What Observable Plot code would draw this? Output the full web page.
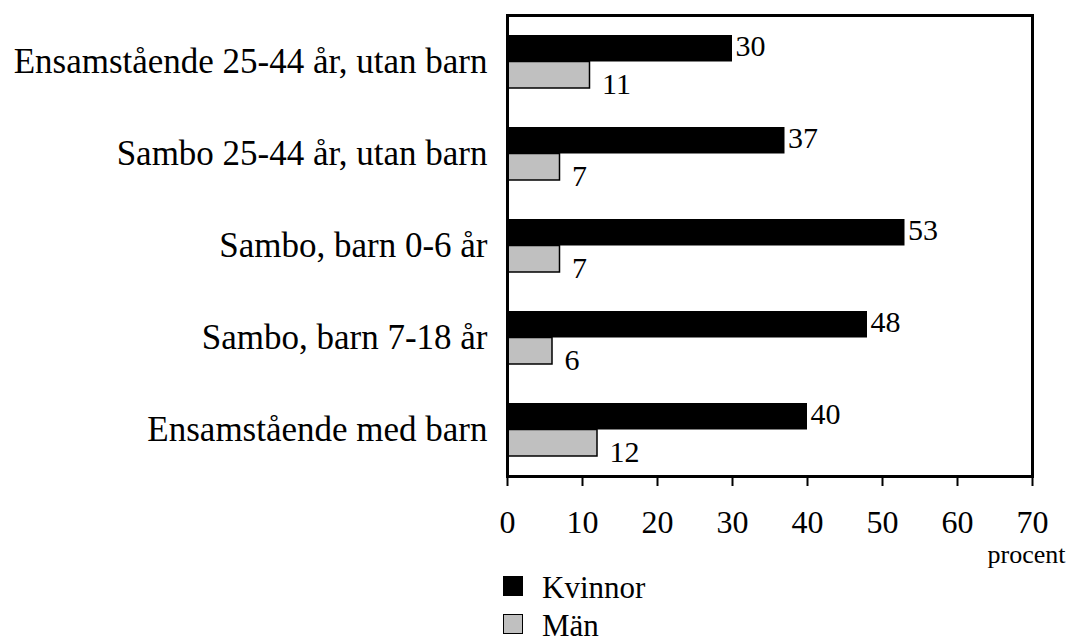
<!DOCTYPE html>
<html><head><meta charset="utf-8">
<script src="https://cdn.jsdelivr.net/npm/d3@7"></script>
<script src="https://cdn.jsdelivr.net/npm/@observablehq/plot@0.6"></script>
<style>
body{margin:0;background:#fff;font-family:"Liberation Serif",serif;color:#000}
#chart svg{display:block}
#chart svg text{font-family:"Liberation Serif",serif}
.legend{margin-left:503px;margin-top:-8px;position:relative}
.row{display:flex;align-items:center;height:38px}
.sw{width:18px;height:18px;border:1px solid #000;box-sizing:content-box;margin-right:19px}
.lab{font-family:"Liberation Serif",serif;font-size:31px;line-height:38px;padding-top:3px}
</style></head><body>
<div id="chart"></div>
<div class="legend" id="legend"></div>
<script>
const categories = [
  "Ensamstående 25-44 år, utan barn",
  "Sambo 25-44 år, utan barn",
  "Sambo, barn 0-6 år",
  "Sambo, barn 7-18 år",
  "Ensamstående med barn"
];
const kvinnor = [30, 37, 53, 48, 40];
const man = [11, 7, 7, 6, 12];
const xTicks = [0, 10, 20, 30, 40, 50, 60, 70];
const seriesNames = ["Kvinnor", "Män"];
const seriesColors = ["#000000", "#c0c0c0"];
const unitLabel = ["procent"];

const data = categories.map((c, i) => ({category: c, kvinnor: kvinnor[i], man: man[i]}));
const serif = "Liberation Serif";

const plot = Plot.plot({
  width: 1069, height: 575,
  marginTop: 15, marginBottom: 99, marginLeft: 507, marginRight: 37,
  style: {fontFamily: serif, fontSize: "32px", background: "transparent", color: "black", overflow: "visible"},
  x: {domain: [0, 70]},
  y: {domain: categories, paddingInner: 0.424, paddingOuter: 0.212},
  marks: [
    Plot.barX(data, {x: "kvinnor", y: "category", fill: seriesColors[0], insetBottom: 26.5}),
    Plot.barX(data, {x: "man", y: "category", fill: seriesColors[1], stroke: "black", strokeWidth: 1.5, insetTop: 26.5}),
    Plot.text(data, {x: "kvinnor", y: "category", text: "kvinnor", textAnchor: "start", dx: 3, dy: -16, fontSize: 30, fontFamily: serif}),
    Plot.text(data, {x: "man", y: "category", text: "man", textAnchor: "start", dx: 12, dy: 22, fontSize: 30, fontFamily: serif}),
    Plot.frame({stroke: "black", strokeWidth: 3}),
    Plot.axisX({ticks: xTicks, tickSize: 10, tickPadding: 24, label: null, strokeWidth: 2, fontFamily: serif, fontSize: 32}),
    Plot.axisY({tickSize: 0, tickPadding: 20, label: null, fontSize: 35, fontFamily: serif}),
    Plot.text(unitLabel, {text: d => d, frameAnchor: "bottom-right", textAnchor: "end", dx: 33, dy: 86, fontSize: 26, fontFamily: serif})
  ]
});
document.getElementById("chart").append(plot);

const legend = document.getElementById("legend");
seriesNames.forEach((name, i) => {
  const row = document.createElement("div");
  row.className = "row";
  const sw = document.createElement("div");
  sw.className = "sw";
  sw.style.background = seriesColors[i];
  const lab = document.createElement("span");
  lab.className = "lab";
  lab.textContent = name;
  row.append(sw, lab);
  legend.append(row);
});
</script>
</body></html>
